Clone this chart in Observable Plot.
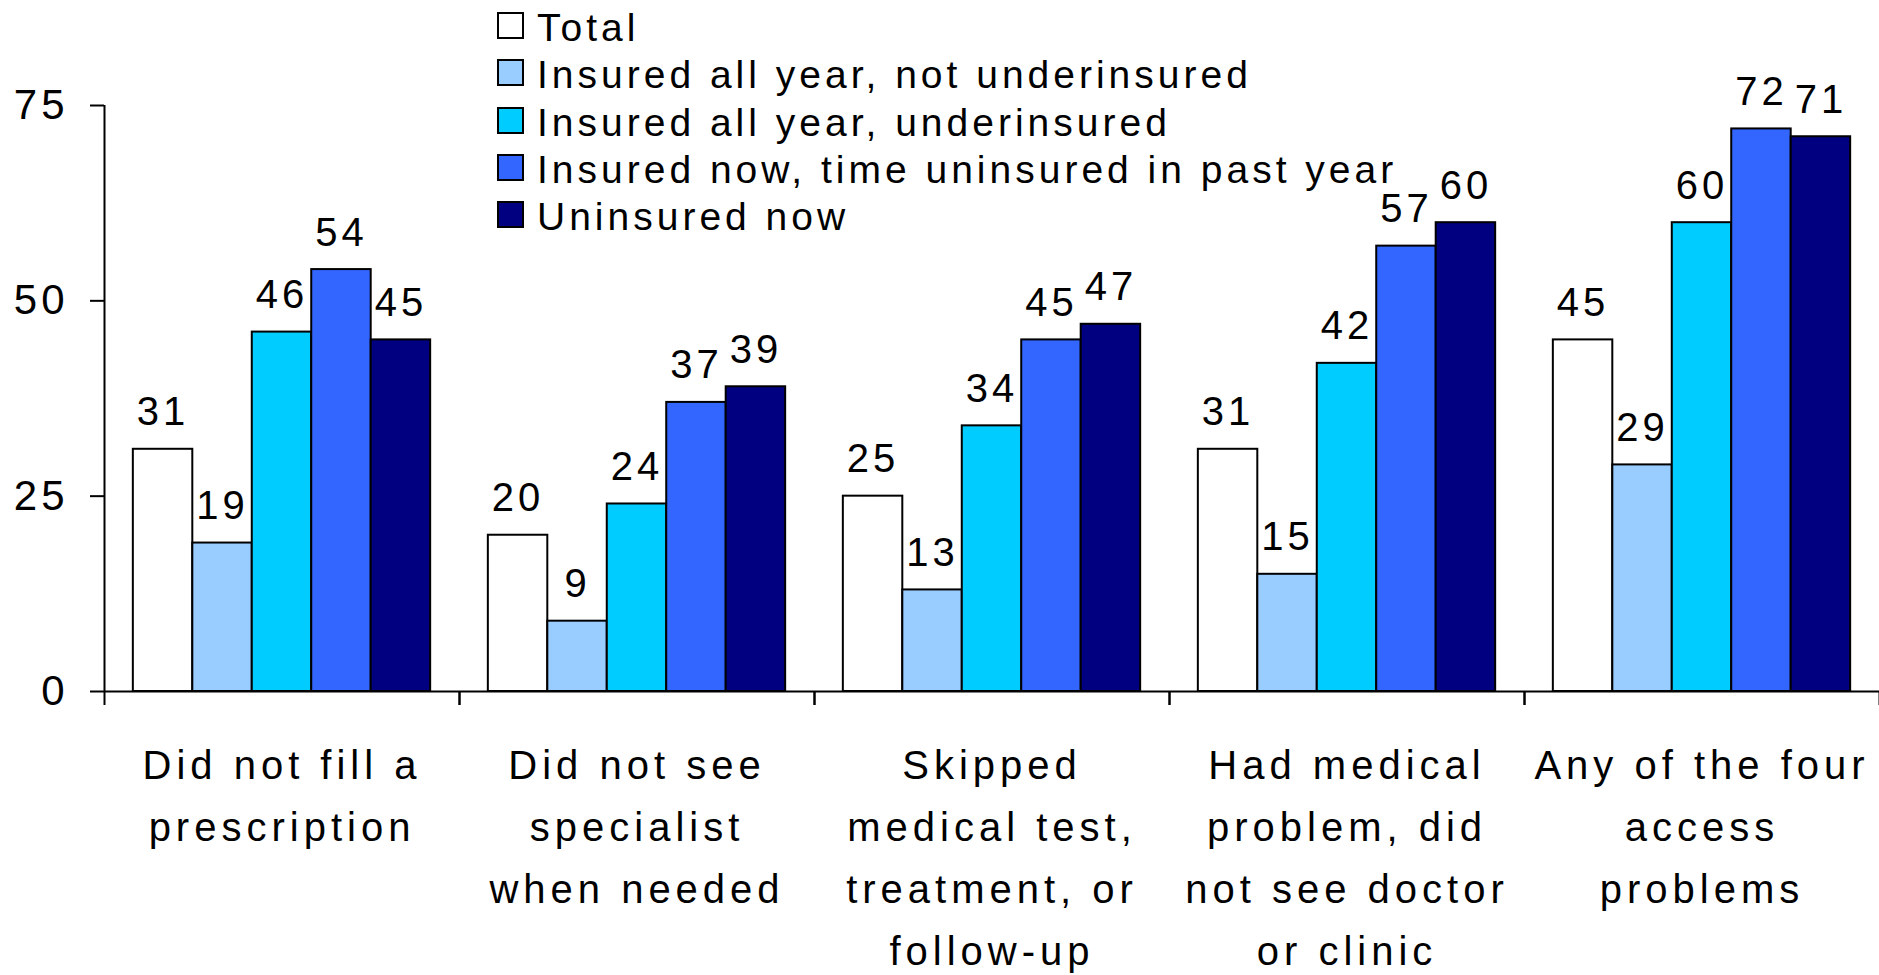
<!DOCTYPE html>
<html>
<head>
<meta charset="utf-8">
<script src="https://cdn.jsdelivr.net/npm/d3@7"></script>
<script src="https://cdn.jsdelivr.net/npm/@observablehq/plot@0.6"></script>
<style>
  body { margin: 0; background: #fff; }
  #wrap { position: relative; width: 1879px; height: 975px; font-family: "Liberation Sans", Arial, sans-serif; }
  #chart svg text { letter-spacing: 4px; }
  #chart svg g[aria-label="fx-axis tick label"] text { letter-spacing: 5px; }
  #legend { position: absolute; left: 497px; top: 4px; font-size: 39px; letter-spacing: 4px; line-height: 47.3px; color: #000; }
  .row { white-space: nowrap; }
  .sw { display: inline-block; width: 23px; height: 23px; border: 2px solid #000; margin-right: 13px; margin-bottom: 2px; vertical-align: baseline; }
</style>
</head>
<body>
<div id="wrap">
  <div id="chart"></div>
  <div id="legend"></div>
</div>
<script>
// ---- data ----
const categories = [
  "Did not fill a\nprescription",
  "Did not see\nspecialist\nwhen needed",
  "Skipped\nmedical test,\ntreatment, or\nfollow-up",
  "Had medical\nproblem, did\nnot see doctor\nor clinic",
  "Any of the four\naccess\nproblems"
];
const series = [
  "Total",
  "Insured all year, not underinsured",
  "Insured all year, underinsured",
  "Insured now, time uninsured in past year",
  "Uninsured now"
];
const colors = ["#FFFFFF", "#99CCFF", "#00CCFF", "#3366FF", "#000080"];
const totalValues      = [31, 20, 25, 31, 45];
const insuredNotUnder  = [19,  9, 13, 15, 29];
const insuredUnder     = [46, 24, 34, 42, 60];
const timeUninsured    = [54, 37, 45, 57, 72];
const uninsuredNow     = [45, 39, 47, 60, 71];
const yTicks = [0, 25, 50, 75];

const seriesValues = [totalValues, insuredNotUnder, insuredUnder, timeUninsured, uninsuredNow];
const data = categories.flatMap((c, ci) =>
  seriesValues.map((vals, si) => ({category: c, series: series[si], index: si, value: vals[ci]}))
);

const gap = 0.485; // outer padding of each group, in bar widths
const xMax = series.length + 2 * gap;

const chart = Plot.plot({
  width: 1879,
  height: 975,
  marginLeft: 104,
  marginRight: 0,
  marginTop: 105,
  marginBottom: 284,
  style: {fontFamily: '"Liberation Sans", Arial, sans-serif', color: "#000", background: "#fff"},
  fx: {domain: categories, padding: 0},
  x: {domain: [0, xMax]},
  y: {domain: [0, 75]},
  color: {domain: series, range: colors},
  marks: [
    Plot.rectY(data, {
      fx: "category",
      x1: d => d.index + gap,
      x2: d => d.index + 1 + gap,
      y1: 0,
      y2: "value",
      fill: "series",
      stroke: "#000",
      strokeWidth: 2
    }),
    Plot.text(data, {
      fx: "category",
      x: d => d.index + gap + 0.5,
      y: "value",
      text: d => String(d.value),
      lineAnchor: "bottom",
      dy: -24,
      fontSize: 40,
      fill: "#000"
    }),
    Plot.ruleY([0], {stroke: "#000", strokeWidth: 2}),
    Plot.ruleX([categories[0]], {fx: d => d, x: 0, y1: 0, y2: 75, stroke: "#000", strokeWidth: 2}),
    Plot.axisX({ticks: [0, xMax], tickSize: 14, tickFormat: () => "", label: null, strokeWidth: 2}),
    Plot.axisY({ticks: yTicks, tickSize: 14, tickPadding: 22, fontSize: 42, label: null, strokeWidth: 2}),
    Plot.axisFx({anchor: "bottom", tickSize: 0, tickPadding: 43, fontSize: 40, lineHeight: 1.55, label: null})
  ]
});
document.getElementById("chart").appendChild(chart);

// ---- legend ----
const legend = document.getElementById("legend");
series.forEach((s, i) => {
  const row = document.createElement("div");
  row.className = "row";
  const sw = document.createElement("span");
  sw.className = "sw";
  sw.style.background = colors[i];
  row.appendChild(sw);
  row.appendChild(document.createTextNode(s));
  legend.appendChild(row);
});
</script>
</body>
</html>
